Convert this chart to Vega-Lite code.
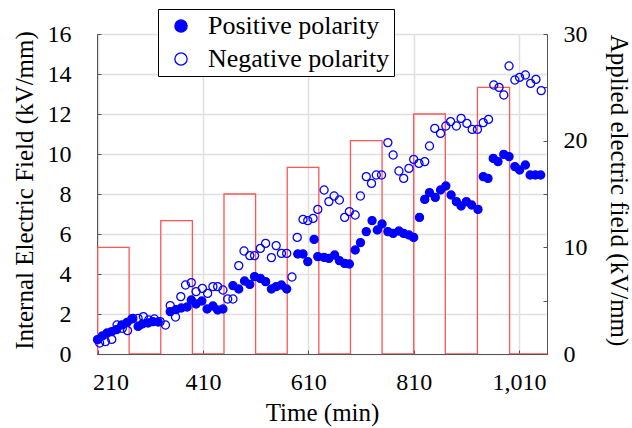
{
  "$schema": "https://vega.github.io/schema/vega-lite/v6.json",
  "width": 450,
  "height": 320,
  "autosize": "none",
  "padding": {"left": 97, "top": 34, "right": 85, "bottom": 74},
  "background": "white",
  "config": {
    "view": {"stroke": "#555555", "strokeWidth": 1},
    "font": "Liberation Serif",
    "axis": {
      "labelFont": "Liberation Serif",
      "titleFont": "Liberation Serif",
      "labelFontSize": 24,
      "titleFontSize": 25,
      "titleFontWeight": "normal",
      "labelColor": "black",
      "titleColor": "black",
      "domainColor": "#555555",
      "tickColor": "#555555",
      "gridColor": "#e0e0e0",
      "gridWidth": 1.5,
      "tickSize": -4
    },
    "legend": {"labelFont": "Liberation Serif"}
  },
  "datasets": {
    "field": [
      {"t": 210, "e": 0}, {"t": 210, "e": 10}, {"t": 270, "e": 10}, {"t": 270, "e": 0},
      {"t": 330, "e": 0}, {"t": 330, "e": 12.5}, {"t": 390, "e": 12.5}, {"t": 390, "e": 0},
      {"t": 450, "e": 0}, {"t": 450, "e": 15}, {"t": 510, "e": 15}, {"t": 510, "e": 0},
      {"t": 570, "e": 0}, {"t": 570, "e": 17.5}, {"t": 630, "e": 17.5}, {"t": 630, "e": 0},
      {"t": 690, "e": 0}, {"t": 690, "e": 20}, {"t": 750, "e": 20}, {"t": 750, "e": 0},
      {"t": 810, "e": 0}, {"t": 810, "e": 22.5}, {"t": 870, "e": 22.5}, {"t": 870, "e": 0},
      {"t": 931, "e": 0}, {"t": 931, "e": 25}, {"t": 992, "e": 25}, {"t": 992, "e": 0},
      {"t": 1063, "e": 0}
    ],
    "pts": [
      {"t": 210, "v": 0.72, "s": "Positive polarity"},
      {"t": 219, "v": 0.9, "s": "Positive polarity"},
      {"t": 228, "v": 1.05, "s": "Positive polarity"},
      {"t": 237, "v": 1.12, "s": "Positive polarity"},
      {"t": 246, "v": 1.22, "s": "Positive polarity"},
      {"t": 256, "v": 1.45, "s": "Positive polarity"},
      {"t": 266, "v": 1.58, "s": "Positive polarity"},
      {"t": 275, "v": 1.75, "s": "Positive polarity"},
      {"t": 287, "v": 1.38, "s": "Positive polarity"},
      {"t": 295, "v": 1.5, "s": "Positive polarity"},
      {"t": 306, "v": 1.55, "s": "Positive polarity"},
      {"t": 315, "v": 1.62, "s": "Positive polarity"},
      {"t": 325, "v": 1.6, "s": "Positive polarity"},
      {"t": 348, "v": 2.12, "s": "Positive polarity"},
      {"t": 359, "v": 2.22, "s": "Positive polarity"},
      {"t": 369, "v": 2.3, "s": "Positive polarity"},
      {"t": 380, "v": 2.35, "s": "Positive polarity"},
      {"t": 388, "v": 2.7, "s": "Positive polarity"},
      {"t": 397, "v": 2.5, "s": "Positive polarity"},
      {"t": 408, "v": 2.65, "s": "Positive polarity"},
      {"t": 418, "v": 2.25, "s": "Positive polarity"},
      {"t": 429, "v": 2.4, "s": "Positive polarity"},
      {"t": 438, "v": 2.2, "s": "Positive polarity"},
      {"t": 448, "v": 2.25, "s": "Positive polarity"},
      {"t": 467, "v": 3.42, "s": "Positive polarity"},
      {"t": 478, "v": 3.25, "s": "Positive polarity"},
      {"t": 489, "v": 3.65, "s": "Positive polarity"},
      {"t": 499, "v": 3.48, "s": "Positive polarity"},
      {"t": 508, "v": 3.87, "s": "Positive polarity"},
      {"t": 519, "v": 3.78, "s": "Positive polarity"},
      {"t": 529, "v": 3.62, "s": "Positive polarity"},
      {"t": 540, "v": 3.25, "s": "Positive polarity"},
      {"t": 549, "v": 3.37, "s": "Positive polarity"},
      {"t": 559, "v": 3.45, "s": "Positive polarity"},
      {"t": 569, "v": 3.25, "s": "Positive polarity"},
      {"t": 590, "v": 5.0, "s": "Positive polarity"},
      {"t": 600, "v": 5.0, "s": "Positive polarity"},
      {"t": 609, "v": 4.62, "s": "Positive polarity"},
      {"t": 621, "v": 5.73, "s": "Positive polarity"},
      {"t": 628, "v": 4.87, "s": "Positive polarity"},
      {"t": 640, "v": 4.83, "s": "Positive polarity"},
      {"t": 649, "v": 4.78, "s": "Positive polarity"},
      {"t": 660, "v": 4.95, "s": "Positive polarity"},
      {"t": 669, "v": 4.67, "s": "Positive polarity"},
      {"t": 679, "v": 4.53, "s": "Positive polarity"},
      {"t": 688, "v": 4.5, "s": "Positive polarity"},
      {"t": 699, "v": 5.2, "s": "Positive polarity"},
      {"t": 709, "v": 5.57, "s": "Positive polarity"},
      {"t": 720, "v": 6.12, "s": "Positive polarity"},
      {"t": 731, "v": 6.67, "s": "Positive polarity"},
      {"t": 741, "v": 6.2, "s": "Positive polarity"},
      {"t": 750, "v": 6.5, "s": "Positive polarity"},
      {"t": 761, "v": 6.12, "s": "Positive polarity"},
      {"t": 771, "v": 6.03, "s": "Positive polarity"},
      {"t": 782, "v": 6.15, "s": "Positive polarity"},
      {"t": 791, "v": 6.03, "s": "Positive polarity"},
      {"t": 801, "v": 5.95, "s": "Positive polarity"},
      {"t": 810, "v": 5.83, "s": "Positive polarity"},
      {"t": 821, "v": 6.83, "s": "Positive polarity"},
      {"t": 831, "v": 7.73, "s": "Positive polarity"},
      {"t": 840, "v": 8.07, "s": "Positive polarity"},
      {"t": 851, "v": 7.83, "s": "Positive polarity"},
      {"t": 861, "v": 8.2, "s": "Positive polarity"},
      {"t": 871, "v": 8.4, "s": "Positive polarity"},
      {"t": 881, "v": 7.95, "s": "Positive polarity"},
      {"t": 891, "v": 7.62, "s": "Positive polarity"},
      {"t": 900, "v": 7.4, "s": "Positive polarity"},
      {"t": 910, "v": 7.62, "s": "Positive polarity"},
      {"t": 920, "v": 7.45, "s": "Positive polarity"},
      {"t": 932, "v": 7.23, "s": "Positive polarity"},
      {"t": 942, "v": 8.87, "s": "Positive polarity"},
      {"t": 951, "v": 8.78, "s": "Positive polarity"},
      {"t": 961, "v": 9.78, "s": "Positive polarity"},
      {"t": 970, "v": 9.62, "s": "Positive polarity"},
      {"t": 981, "v": 9.98, "s": "Positive polarity"},
      {"t": 991, "v": 9.87, "s": "Positive polarity"},
      {"t": 1002, "v": 9.37, "s": "Positive polarity"},
      {"t": 1011, "v": 9.2, "s": "Positive polarity"},
      {"t": 1022, "v": 9.45, "s": "Positive polarity"},
      {"t": 1031, "v": 8.95, "s": "Positive polarity"},
      {"t": 1041, "v": 8.95, "s": "Positive polarity"},
      {"t": 1051, "v": 8.95, "s": "Positive polarity"},
      {"t": 214, "v": 0.55, "s": "Negative polarity"},
      {"t": 225, "v": 0.62, "s": "Negative polarity"},
      {"t": 237, "v": 0.73, "s": "Negative polarity"},
      {"t": 247, "v": 1.45, "s": "Negative polarity"},
      {"t": 257, "v": 1.28, "s": "Negative polarity"},
      {"t": 267, "v": 1.17, "s": "Negative polarity"},
      {"t": 277, "v": 1.78, "s": "Negative polarity"},
      {"t": 287, "v": 1.78, "s": "Negative polarity"},
      {"t": 297, "v": 1.87, "s": "Negative polarity"},
      {"t": 307, "v": 1.7, "s": "Negative polarity"},
      {"t": 318, "v": 1.75, "s": "Negative polarity"},
      {"t": 329, "v": 1.62, "s": "Negative polarity"},
      {"t": 339, "v": 1.45, "s": "Negative polarity"},
      {"t": 348, "v": 2.42, "s": "Negative polarity"},
      {"t": 358, "v": 1.85, "s": "Negative polarity"},
      {"t": 368, "v": 2.87, "s": "Negative polarity"},
      {"t": 377, "v": 3.45, "s": "Negative polarity"},
      {"t": 388, "v": 3.57, "s": "Negative polarity"},
      {"t": 397, "v": 3.12, "s": "Negative polarity"},
      {"t": 409, "v": 3.28, "s": "Negative polarity"},
      {"t": 419, "v": 3.03, "s": "Negative polarity"},
      {"t": 429, "v": 3.37, "s": "Negative polarity"},
      {"t": 438, "v": 3.37, "s": "Negative polarity"},
      {"t": 448, "v": 3.2, "s": "Negative polarity"},
      {"t": 457, "v": 2.75, "s": "Negative polarity"},
      {"t": 467, "v": 2.75, "s": "Negative polarity"},
      {"t": 478, "v": 4.42, "s": "Negative polarity"},
      {"t": 488, "v": 5.15, "s": "Negative polarity"},
      {"t": 499, "v": 4.92, "s": "Negative polarity"},
      {"t": 508, "v": 4.92, "s": "Negative polarity"},
      {"t": 519, "v": 5.28, "s": "Negative polarity"},
      {"t": 529, "v": 5.53, "s": "Negative polarity"},
      {"t": 540, "v": 4.82, "s": "Negative polarity"},
      {"t": 549, "v": 5.42, "s": "Negative polarity"},
      {"t": 559, "v": 5.03, "s": "Negative polarity"},
      {"t": 569, "v": 5.03, "s": "Negative polarity"},
      {"t": 579, "v": 3.85, "s": "Negative polarity"},
      {"t": 589, "v": 5.83, "s": "Negative polarity"},
      {"t": 600, "v": 6.73, "s": "Negative polarity"},
      {"t": 609, "v": 6.67, "s": "Negative polarity"},
      {"t": 619, "v": 6.78, "s": "Negative polarity"},
      {"t": 628, "v": 7.23, "s": "Negative polarity"},
      {"t": 640, "v": 8.2, "s": "Negative polarity"},
      {"t": 649, "v": 7.62, "s": "Negative polarity"},
      {"t": 659, "v": 7.9, "s": "Negative polarity"},
      {"t": 669, "v": 7.7, "s": "Negative polarity"},
      {"t": 679, "v": 6.83, "s": "Negative polarity"},
      {"t": 688, "v": 7.12, "s": "Negative polarity"},
      {"t": 699, "v": 6.95, "s": "Negative polarity"},
      {"t": 709, "v": 7.9, "s": "Negative polarity"},
      {"t": 720, "v": 8.87, "s": "Negative polarity"},
      {"t": 730, "v": 8.53, "s": "Negative polarity"},
      {"t": 739, "v": 8.95, "s": "Negative polarity"},
      {"t": 749, "v": 8.95, "s": "Negative polarity"},
      {"t": 761, "v": 10.57, "s": "Negative polarity"},
      {"t": 771, "v": 9.95, "s": "Negative polarity"},
      {"t": 782, "v": 9.15, "s": "Negative polarity"},
      {"t": 791, "v": 8.78, "s": "Negative polarity"},
      {"t": 801, "v": 9.28, "s": "Negative polarity"},
      {"t": 810, "v": 9.73, "s": "Negative polarity"},
      {"t": 820, "v": 9.53, "s": "Negative polarity"},
      {"t": 831, "v": 9.62, "s": "Negative polarity"},
      {"t": 840, "v": 10.4, "s": "Negative polarity"},
      {"t": 850, "v": 11.28, "s": "Negative polarity"},
      {"t": 861, "v": 11.03, "s": "Negative polarity"},
      {"t": 871, "v": 11.4, "s": "Negative polarity"},
      {"t": 880, "v": 11.62, "s": "Negative polarity"},
      {"t": 891, "v": 11.4, "s": "Negative polarity"},
      {"t": 900, "v": 11.78, "s": "Negative polarity"},
      {"t": 911, "v": 11.53, "s": "Negative polarity"},
      {"t": 921, "v": 11.23, "s": "Negative polarity"},
      {"t": 931, "v": 11.23, "s": "Negative polarity"},
      {"t": 942, "v": 11.57, "s": "Negative polarity"},
      {"t": 952, "v": 11.73, "s": "Negative polarity"},
      {"t": 962, "v": 13.45, "s": "Negative polarity"},
      {"t": 972, "v": 13.33, "s": "Negative polarity"},
      {"t": 981, "v": 12.95, "s": "Negative polarity"},
      {"t": 991, "v": 14.4, "s": "Negative polarity"},
      {"t": 1002, "v": 13.7, "s": "Negative polarity"},
      {"t": 1011, "v": 13.83, "s": "Negative polarity"},
      {"t": 1022, "v": 13.95, "s": "Negative polarity"},
      {"t": 1032, "v": 13.53, "s": "Negative polarity"},
      {"t": 1042, "v": 13.73, "s": "Negative polarity"},
      {"t": 1052, "v": 13.17, "s": "Negative polarity"}
    ]
  },
  "layer": [
    {
      "data": {"name": "field"},
      "mark": {"type": "line", "stroke": "#ff5555", "strokeWidth": 1.3, "clip": true},
      "encoding": {
        "x": {
          "field": "t", "type": "quantitative",
          "scale": {"domain": [209, 1063], "nice": false, "zero": false},
          "axis": {"values": [210, 410, 610, 810, 1010], "format": ",d", "grid": true, "title": "Time (min)", "labelPadding": 20, "titlePadding": 6, "labelFlush": 3, "labelFlushOffset": 5}
        },
        "y": {
          "field": "e", "type": "quantitative",
          "scale": {"domain": [0, 30], "nice": false},
          "axis": {"orient": "right", "values": [0, 5, 10, 15, 20, 25, 30], "labelExpr": "datum.value % 10 === 0 ? datum.label : ''", "grid": false, "title": "Applied electric field (kV/mm)", "labelPadding": 20, "titlePadding": 18, "labelAlign": "left", "titleY": 156}
        },
        "order": {"value": null}
      }
    },
    {
      "data": {"name": "pts"},
      "mark": {"type": "point", "shape": "circle", "size": 65, "stroke": "#0000ff", "strokeWidth": 1.3, "opacity": 1, "clip": false},
      "encoding": {
        "x": {
          "field": "t", "type": "quantitative",
          "scale": {"domain": [209, 1063], "nice": false, "zero": false},
          "axis": {"values": [210, 410, 610, 810, 1010], "format": ",d", "grid": true, "title": "Time (min)", "labelPadding": 20, "titlePadding": 6, "labelFlush": 3, "labelFlushOffset": 5}
        },
        "y": {
          "field": "v", "type": "quantitative",
          "scale": {"domain": [0, 16], "nice": false},
          "axis": {"orient": "left", "values": [0, 2, 4, 6, 8, 10, 12, 14, 16], "grid": true, "title": "Internal Electric Field (kV/mm)", "labelPadding": 30, "titlePadding": 10, "titleY": 156}
        },
        "fill": {
          "field": "s", "type": "nominal",
          "scale": {"domain": ["Positive polarity", "Negative polarity"], "range": ["#0000ff", "transparent"]},
          "legend": {
            "title": null, "orient": "none", "legendX": 61, "legendY": -25, "direction": "vertical",
            "fillColor": "white", "strokeColor": "black", "padding": 4, "rowPadding": 7,
            "symbolType": "circle", "symbolSize": 150, "symbolStrokeColor": "#0000ff", "symbolStrokeWidth": 1.3,
            "symbolOffset": 6, "labelOffset": 14, "labelFontSize": 26,
            "labelColor": "black", "labelLimit": 400, "labelExpr": "datum.label + '\u00a0\u00a0\u00a0'",
            "encode": {"legend": {"update": {"strokeWidth": {"value": 1.5}}}}
          }
        }
      }
    }
  ],
  "resolve": {"scale": {"y": "independent"}}
}
